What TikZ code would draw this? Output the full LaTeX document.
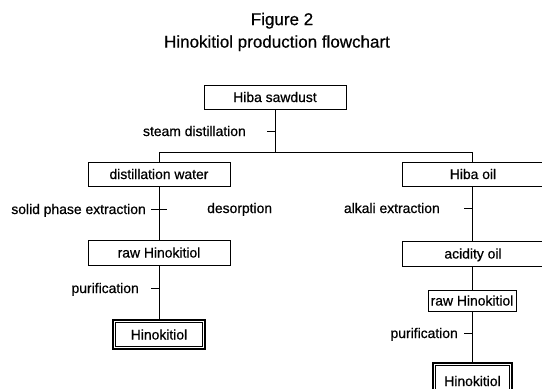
\documentclass[tikz,border=0pt]{standalone}
\usepackage{fontspec}
\setmainfont{Liberation Sans}[FakeBold=0.6]
\begin{document}
\begin{tikzpicture}[x=1pt,y=-1pt,
  lbl/.style={font=\fontsize{13.9}{16}\selectfont, inner sep=0pt, text height=10pt, text depth=0pt},
  ttl/.style={font=\fontsize{17}{20}\selectfont, inner sep=0pt, text height=12.2pt, text depth=0pt},
  box/.style={lbl, draw, line width=0.8pt, minimum height=24pt, minimum width=142pt},
  endbox/.style={lbl, draw, line width=1.6pt, path picture={\draw[line width=0.6pt]
      ([shift={(2.6pt,-2.6pt)}]path picture bounding box.north west) rectangle
      ([shift={(-2.6pt,2.6pt)}]path picture bounding box.south east);}},
  ln/.style={line width=0.8pt}]
\useasboundingbox (0,0) rectangle (542,389);
\clip (0,0) rectangle (542,389);
\fill[white] (0,0) rectangle (542,389);
% titles
\node[ttl] (fig) at (282,19) {Figure 2};
\node[ttl] (title) at (277,41.5) {Hinokitiol production flowchart};
% boxes
\node[box] (saw) at (275,97) {Hiba sawdust};
\node[box] (dw) at (159,174) {distillation water};
\node[box] (oil) at (473,174) {Hiba oil};
\node[box, minimum height=25pt] (raw1) at (159,252.5) {raw Hinokitiol};
\node[box, minimum height=25pt] (acid) at (473,253.5) {acidity oil};
\node[box, minimum height=21pt, minimum width=88pt] (raw2) at (472,300.5) {raw Hinokitiol};
\node[endbox, minimum width=92pt, minimum height=29pt] (hk1) at (159,334.5) {Hinokitiol};
\node[endbox, minimum width=79pt, minimum height=36pt] (hk2) at (472.5,381) {Hinokitiol};
% junctions
\coordinate (j) at (275,152);
\coordinate (jl) at (159,152);
\coordinate (jr) at (472,152);
% connectors
\draw[ln] (saw) -- (j);
\draw[ln] (jl) -- (jr);
\draw[ln] (jl) -- (dw);
\draw[ln] (jr) -- (oil.north -| jr);
\draw[ln] (dw) -- (raw1);
\draw[ln] (raw1) -- (hk1);
\draw[ln] (oil.south -| jr) -- (acid.north -| jr);
\draw[ln] (acid.south -| jr) -- (raw2);
\draw[ln] (raw2) -- (hk2.north -| jr);
% labels
\node[lbl, anchor=east] (l1) at (246,131) {steam distillation};
\node[lbl, anchor=east] (l2) at (146,209) {solid phase extraction};
\node[lbl, anchor=west] (l3) at (207,208) {desorption};
\node[lbl, anchor=east] (l4) at (440,208) {alkali extraction};
\node[lbl, anchor=east] (l5) at (139,288) {purification};
\node[lbl, anchor=east] (l6) at (458,333) {purification};
% ticks
\coordinate (t1a) at (267,131); \coordinate (t1b) at (275,131);
\coordinate (t2a) at (151,209); \coordinate (t2b) at (167,209);
\coordinate (t3a) at (151,288); \coordinate (t3b) at (159,288);
\coordinate (t4a) at (464,208); \coordinate (t4b) at (472,208);
\coordinate (t5a) at (464,333); \coordinate (t5b) at (472,333);
\draw[ln] (t1a) -- (t1b);
\draw[ln] (t2a) -- (t2b);
\draw[ln] (t3a) -- (t3b);
\draw[ln] (t4a) -- (t4b);
\draw[ln] (t5a) -- (t5b);
\end{tikzpicture}
\end{document}
